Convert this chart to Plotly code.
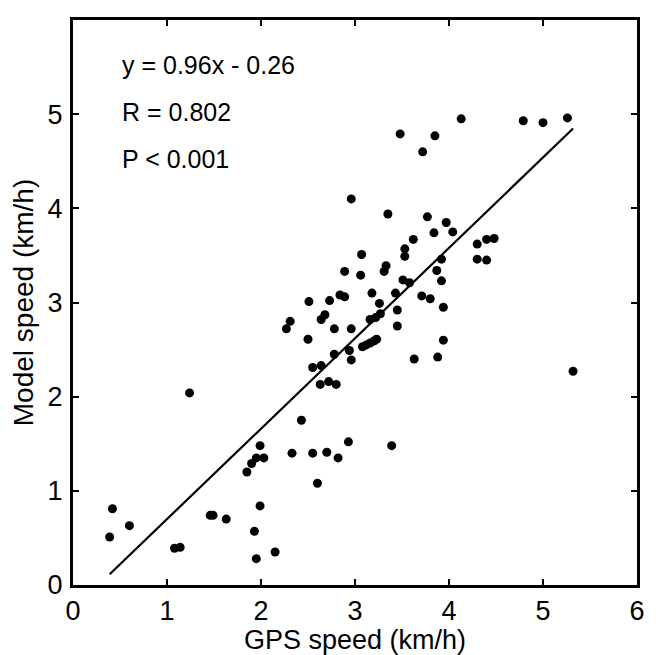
import plotly.graph_objects as go

gps_speed = [0.39, 0.42, 0.60, 1.08, 1.14, 1.24, 1.46, 1.49, 1.63, 1.85, 1.90, 1.95, 2.03, 1.99, 1.99,
             1.93, 1.95, 2.15, 2.33, 2.43, 2.55, 2.60, 2.70, 2.82, 2.93, 2.27, 2.31, 2.51, 2.50, 2.55,
             2.64, 2.63, 2.72, 2.80, 2.64, 2.68, 2.73, 2.84, 2.89, 2.78, 2.96, 2.78, 2.94, 2.96,
             3.39, 5.32, 3.63, 3.88, 3.94, 3.94, 3.80, 3.71, 3.92, 3.45, 3.45, 3.43, 3.26, 3.18,
             3.16, 3.22, 3.27, 3.08, 3.12, 3.16, 3.20, 3.23,
             4.13, 4.79, 5.00, 5.26, 3.48, 3.85, 3.72, 2.96, 3.35, 3.77, 3.97, 4.04, 3.84, 3.62,
             3.53, 3.53, 3.07, 3.33, 3.31, 2.89, 3.06, 3.92, 3.87, 3.51, 3.58, 4.30, 4.40, 4.48,
             4.30, 4.40]
model_speed = [0.51, 0.81, 0.63, 0.39, 0.40, 2.04, 0.74, 0.74, 0.70, 1.20, 1.29, 1.35, 1.35, 1.48, 0.84,
               0.57, 0.28, 0.35, 1.40, 1.75, 1.40, 1.08, 1.41, 1.35, 1.52, 2.72, 2.80, 3.01, 2.61, 2.31,
               2.33, 2.13, 2.16, 2.13, 2.82, 2.87, 3.02, 3.08, 3.06, 2.72, 2.72, 2.45, 2.49, 2.39,
               1.48, 2.27, 2.40, 2.42, 2.60, 2.95, 3.04, 3.07, 3.23, 2.75, 2.92, 3.10, 2.99, 3.10,
               2.82, 2.84, 2.88, 2.53, 2.55, 2.57, 2.59, 2.61,
               4.95, 4.93, 4.91, 4.96, 4.79, 4.77, 4.60, 4.10, 3.94, 3.91, 3.85, 3.75, 3.74, 3.67,
               3.57, 3.49, 3.51, 3.39, 3.33, 3.33, 3.29, 3.46, 3.34, 3.24, 3.21, 3.62, 3.67, 3.68,
               3.46, 3.45]

slope = 0.96
intercept = -0.26
stats_lines = ["y = 0.96x - 0.26", "R = 0.802", "P < 0.001"]
tick_vals = [0, 1, 2, 3, 4, 5, 6]

x_fit = [min(gps_speed), max(gps_speed)]
y_fit = [slope * v + intercept for v in x_fit]

FONT = "Liberation Sans, Arial, sans-serif"

fig = go.Figure()
fig.add_trace(go.Scatter(x=x_fit, y=y_fit, mode="lines",
                         line=dict(color="black", width=2.2), showlegend=False))
fig.add_trace(go.Scatter(x=gps_speed, y=model_speed, mode="markers",
                         marker=dict(color="black", size=9), showlegend=False))

for i, t in enumerate(stats_lines):
    fig.add_annotation(x=0.083, y=0.92 - i * 0.083, xref="paper", yref="paper",
                       text=t, showarrow=False, xanchor="left", yanchor="middle",
                       font=dict(family=FONT, size=25, color="black"))

axis_common = dict(range=[0, 6], tickvals=tick_vals, ticks="inside", ticklen=6,
                   tickwidth=2, tickcolor="black", showline=True, linecolor="black",
                   linewidth=3, mirror="ticks", showgrid=False, zeroline=False,
                   tickfont=dict(family=FONT, size=27, color="black"))

fig.update_xaxes(**axis_common, ticklabelstandoff=0,
                 title=dict(text="GPS speed (km/h)", standoff=2,
                            font=dict(family=FONT, size=27, color="black")))
fig.update_yaxes(**axis_common, ticklabelstandoff=2,
                 title=dict(text="Model speed (km/h)", standoff=6,
                            font=dict(family=FONT, size=28, color="black")))

fig.update_layout(width=648, height=647, plot_bgcolor="white", paper_bgcolor="white",
                  margin=dict(l=65, r=19, t=12, b=70, autoexpand=False))

fig.write_html("out.html")
